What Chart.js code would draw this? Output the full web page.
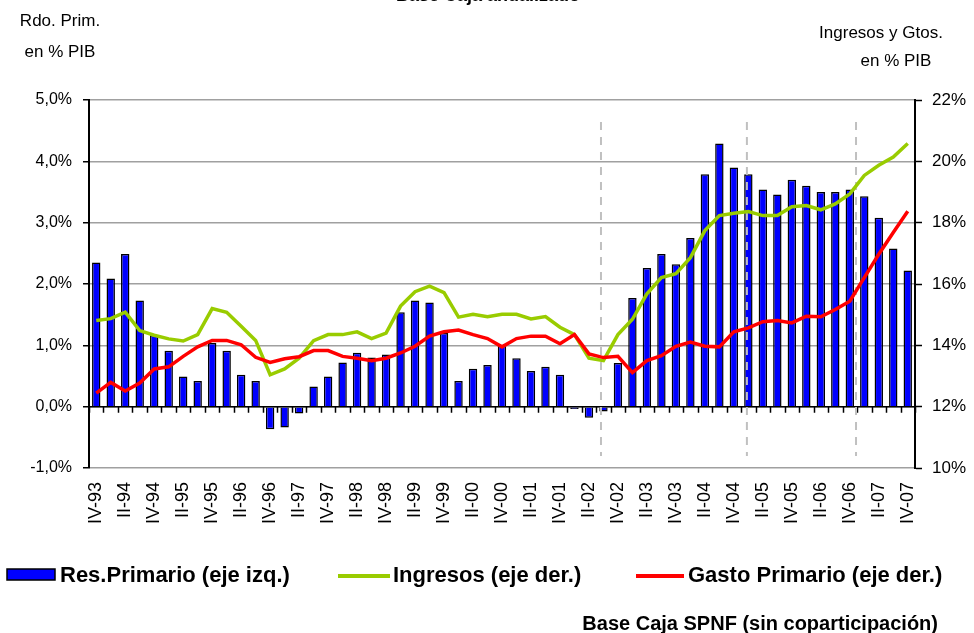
<!DOCTYPE html>
<html>
<head>
<meta charset="utf-8">
<script src="https://cdn.jsdelivr.net/npm/chart.js@4/dist/chart.umd.min.js"></script>
<style>
html, body { margin: 0; padding: 0; background: #fff; }
</style>
</head>
<body>
<canvas id="dataChart" width="974" height="633"></canvas>
<script>
const labels = [
    'IV-93',
    'I-94', 'II-94', 'III-94', 'IV-94',
    'I-95', 'II-95', 'III-95', 'IV-95',
    'I-96', 'II-96', 'III-96', 'IV-96',
    'I-97', 'II-97', 'III-97', 'IV-97',
    'I-98', 'II-98', 'III-98', 'IV-98',
    'I-99', 'II-99', 'III-99', 'IV-99',
    'I-00', 'II-00', 'III-00', 'IV-00',
    'I-01', 'II-01', 'III-01', 'IV-01',
    'I-02', 'II-02', 'III-02', 'IV-02',
    'I-03', 'II-03', 'III-03', 'IV-03',
    'I-04', 'II-04', 'III-04', 'IV-04',
    'I-05', 'II-05', 'III-05', 'IV-05',
    'I-06', 'II-06', 'III-06', 'IV-06',
    'I-07', 'II-07', 'III-07', 'IV-07'
];

// resultado primario, % PIB (eje izq.)
const resPrimario = [
    2.35, 2.09, 2.49, 1.73, 1.17, 0.91, 0.49, 0.42, 1.04, 0.91,
    0.52, 0.42, -0.37, -0.34, -0.11, 0.33, 0.49, 0.72, 0.88, 0.80,
    0.85, 1.54, 1.73, 1.70, 1.20, 0.42, 0.62, 0.68, 1.01, 0.79,
    0.58, 0.65, 0.52, -0.04, -0.18, -0.08, 0.71, 1.77, 2.26, 2.49,
    2.32, 2.75, 3.79, 4.29, 3.90, 3.79, 3.54, 3.46, 3.70, 3.60,
    3.50, 3.50, 3.54, 3.43, 3.08, 2.58, 2.22
];

// ingresos, % PIB (eje der.)
const ingresos = [
    14.81, 14.87, 15.08, 14.48, 14.33, 14.21, 14.14, 14.35, 15.20, 15.08,
    14.62, 14.16, 13.04, 13.23, 13.58, 14.15, 14.35, 14.35, 14.44, 14.22,
    14.40, 15.28, 15.75, 15.93, 15.72, 14.92, 15.01, 14.93, 15.01, 15.01,
    14.86, 14.94, 14.59, 14.35, 13.58, 13.50, 14.35, 14.85, 15.68, 16.21,
    16.34, 16.86, 17.74, 18.23, 18.31, 18.36, 18.23, 18.23, 18.52, 18.56,
    18.42, 18.61, 18.94, 19.54, 19.87, 20.14, 20.58
];

// gasto primario, % PIB (eje der.)
const gasto = [
    12.44, 12.79, 12.51, 12.77, 13.23, 13.30, 13.64, 13.95, 14.16, 14.16,
    14.02, 13.61, 13.44, 13.56, 13.63, 13.83, 13.83, 13.64, 13.58, 13.50,
    13.58, 13.75, 13.97, 14.30, 14.44, 14.50, 14.35, 14.22, 13.95, 14.22,
    14.30, 14.30, 14.05, 14.35, 13.72, 13.60, 13.64, 13.11, 13.50, 13.66,
    13.97, 14.11, 13.97, 13.95, 14.44, 14.57, 14.77, 14.81, 14.73, 14.95,
    14.93, 15.17, 15.44, 16.21, 16.97, 17.68, 18.37
];

// dashed separators, in category units
const cortes = [34.83, 44.9, 52.43];

const FONT = 'Arial, "Liberation Sans", sans-serif';

const ctx = document.getElementById('dataChart');

const extras = {
    id: 'extras',
    afterDatasetDraw(chart, args) {
        if (args.index !== 0) return;
        const c = chart.ctx;
        const x = chart.scales.x;
        const y0 = chart.scales.y.getPixelForValue(0);
        const a = chart.chartArea;
        c.save();
        c.strokeStyle = '#000';
        c.lineWidth = 1.5;
        c.beginPath();
        c.moveTo(a.left, y0);
        c.lineTo(a.right, y0);
        for (let i = 0; i <= labels.length; i++) {
            const px = Math.round(x.getPixelForValue(i - 0.5)) + 0.5;
            c.moveTo(px, y0);
            c.lineTo(px, y0 + 6);
        }
        c.stroke();
        // separators
        c.strokeStyle = '#c0c0c0';
        c.lineWidth = 2;
        c.setLineDash([8, 7]);
        cortes.forEach(function(p) {
            const px = x.getPixelForValue(p);
            c.beginPath();
            c.moveTo(px, 122);
            c.lineTo(px, 456);
            c.stroke();
        });
        c.restore();
    },
    afterDraw(chart) {
        const c = chart.ctx;
        const ds = chart.data.datasets;
        c.save();
        c.fillStyle = '#000';
        c.textAlign = 'center';
        c.textBaseline = 'alphabetic';
        c.font = 'bold 18px ' + FONT;
        c.fillText('Base Caja anualizado', 488, 1);

        c.textBaseline = 'middle';
        c.font = '17px ' + FONT;
        c.fillText('Rdo. Prim.', 60, 21);
        c.fillText('en % PIB', 60, 52);
        c.fillText('Ingresos y Gtos.', 881, 33);
        c.fillText('en % PIB', 896, 61);

        // legend
        c.textAlign = 'left';
        c.font = 'bold 22px ' + FONT;
        c.fillStyle = ds[0].backgroundColor;
        c.fillRect(7, 569, 48, 11);
        c.strokeStyle = '#000';
        c.lineWidth = 1.5;
        c.strokeRect(7, 569, 48, 11);
        c.fillStyle = '#000';
        c.fillText(ds[0].label, 60, 576);

        c.lineWidth = 4;
        c.strokeStyle = ds[1].borderColor;
        c.beginPath(); c.moveTo(338, 576); c.lineTo(390, 576); c.stroke();
        c.fillText(ds[1].label, 393, 576);

        c.strokeStyle = ds[2].borderColor;
        c.beginPath(); c.moveTo(636, 576); c.lineTo(684, 576); c.stroke();
        c.fillText(ds[2].label, 688, 576);

        c.textAlign = 'right';
        c.font = 'bold 20px ' + FONT;
        c.fillText('Base Caja SPNF (sin coparticipación)', 938, 624);
        c.restore();
    }
};

var chartData = {
    labels: labels,
    datasets: [{
        type: 'bar',
        label: 'Res.Primario (eje izq.)',
        data: resPrimario,
        yAxisID: 'y',
        backgroundColor: '#0000ff',
        borderColor: '#000',
        borderWidth: 1.5,
        categoryPercentage: 1,
        barPercentage: 0.58,
        order: 3
    }, {
        type: 'line',
        label: 'Ingresos (eje der.)',
        data: ingresos,
        yAxisID: 'y2',
        borderColor: '#99cc00',
        borderWidth: 3.5,
        pointRadius: 0,
        fill: false,
        tension: 0,
        order: 2
    }, {
        type: 'line',
        label: 'Gasto Primario (eje der.)',
        data: gasto,
        yAxisID: 'y2',
        borderColor: '#ff0000',
        borderWidth: 3.5,
        pointRadius: 0,
        fill: false,
        tension: 0,
        order: 1
    }]
};

var chartOptions = {
    responsive: false,
    animation: false,
    devicePixelRatio: 1,
    layout: { padding: { top: 100, left: 0, right: 0, bottom: 0 } },
    plugins: {
        legend: { display: false },
        tooltip: { enabled: false }
    },
    scales: {
        x: {
            offset: true,
            grid: { display: false },
            border: { display: false },
            ticks: {
                autoSkip: false,
                maxRotation: 90,
                minRotation: 90,
                padding: 6,
                color: '#000',
                font: { family: FONT, size: 18 },
                callback: function(v, i) {
                    return i % 2 === 0 ? this.getLabelForValue(v) : '';
                }
            },
            afterFit: function(s) { s.height = 165; }
        },
        y: {
            position: 'left',
            min: -1,
            max: 5,
            ticks: {
                stepSize: 1,
                padding: 11,
                color: '#000',
                font: { family: FONT, size: 16 },
                callback: function(v) { return v.toFixed(1).replace('.', ',') + '%'; }
            },
            grid: { color: '#a0a0a0', lineWidth: 1.5, tickColor: '#000', tickLength: 6, tickWidth: 1.5 },
            border: { color: '#000', width: 2 },
            afterFit: function(s) { s.width = 89; }
        },
        y2: {
            position: 'right',
            min: 10,
            max: 22,
            ticks: {
                stepSize: 2,
                padding: 10,
                color: '#000',
                font: { family: FONT, size: 17 },
                callback: function(v) { return v + '%'; }
            },
            grid: { drawOnChartArea: false, tickColor: '#000', tickLength: 7, tickWidth: 1.5 },
            border: { color: '#000', width: 2 },
            afterFit: function(s) { s.width = 59; }
        }
    }
};

var myChart = new Chart(ctx, {
    type: 'bar',
    data: chartData,
    options: chartOptions,
    plugins: [extras]
});
</script>
</body>
</html>
